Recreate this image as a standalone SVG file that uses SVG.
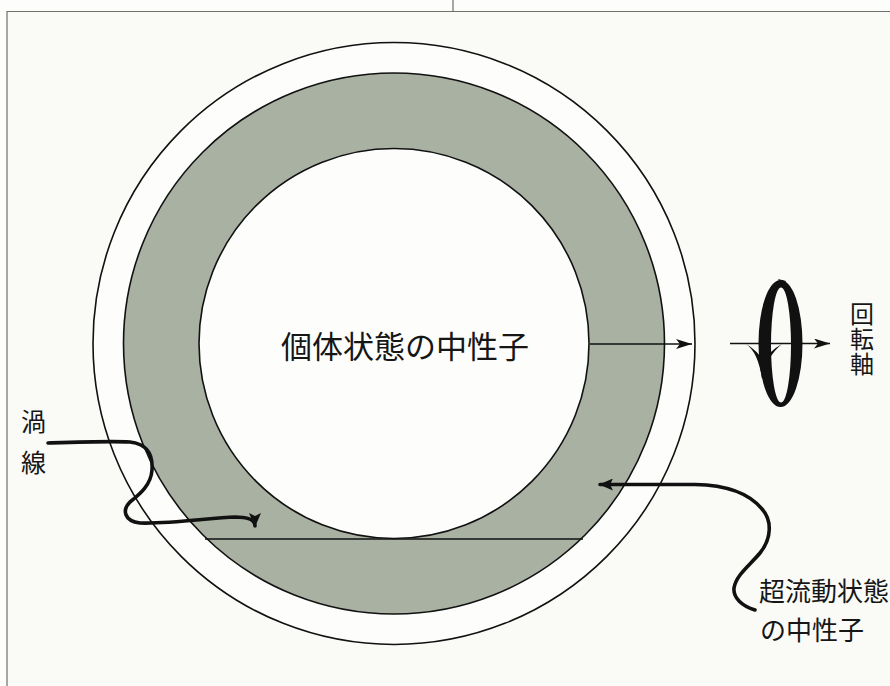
<svg xmlns="http://www.w3.org/2000/svg" width="890" height="686" viewBox="0 0 890 686">
  <defs>
    <style>
      .page { fill: #fafbf7; }
      .frame { stroke: #6e706c; stroke-width: 1.2; fill: none; }
      .ring-line { stroke: #111; stroke-width: 1.6; }
      .thin { stroke: #111; stroke-width: 1.4; fill: none; }
      .leader { stroke: #111; stroke-width: 3.6; fill: none; stroke-linecap: round; stroke-linejoin: round; }
      .label { font-family: "Noto Sans CJK JP", "Noto Sans", sans-serif; fill: #161616; }
    </style>
    <marker id="thinHead" viewBox="0 0 16 10" refX="16" refY="5" markerWidth="16" markerHeight="10" markerUnits="userSpaceOnUse" orient="auto">
      <path d="M0,0 L16,5 L0,10 L4,5 Z" fill="#111"/>
    </marker>
    <marker id="boldHead" viewBox="0 0 14 12" refX="13" refY="6" markerWidth="14" markerHeight="12" markerUnits="userSpaceOnUse" orient="auto">
      <path d="M0,0 L14,6 L0,12 L3,6 Z" fill="#111"/>
    </marker>
  </defs>

  <!-- paper -->
  <rect class="page" x="0" y="0" width="890" height="686"/>
  <rect x="0" y="0" width="890" height="11" fill="#fdfdfb"/>
  <rect x="0" y="0" width="7" height="686" fill="#fdfdfb"/>

  <!-- page frame -->
  <g id="frame">
    <line class="frame" x1="7" y1="11.5" x2="890" y2="11.5"/>
    <line class="frame" x1="7" y1="11" x2="7" y2="686"/>
    <line class="frame" x1="453" y1="0" x2="453" y2="11.5"/>
  </g>

  <!-- neutron star cross-section -->
  <g id="star">
    <circle class="ring-line" cx="394" cy="343.5" r="301" fill="#fdfdfb"/>
    <circle class="ring-line" cx="394" cy="343.5" r="270.5" fill="#a9b1a3"/>
    <circle class="ring-line" cx="394" cy="343.5" r="195" fill="#fdfdfb"/>
    <line class="ring-line" x1="205" y1="539" x2="583" y2="539"/>
  </g>

  <!-- rotation symbol -->
  <g id="rotation">
    <path fill="#111" fill-rule="evenodd" d="M780.5,280 A22,63.5 0 1,1 780.5,407 A22,63.5 0 1,1 780.5,280 Z M781,287.5 A10,57.5 0 1,0 781,402.5 A10,57.5 0 1,0 781,287.5 Z"/>
    <path fill="#111" d="M778,279 L786,281 L783,286 Z"/>
  </g>

  <!-- labels -->
  <g id="label-solid">
    <text class="label" x="281" y="358" font-size="31">個体状態の中性子</text>
  </g>
  <g id="label-axis">
    <text class="label" x="862" y="302" font-size="24" letter-spacing="1" style="writing-mode: vertical-rl">回転軸</text>
  </g>
  <g id="label-vortex">
    <text class="label" x="33.5" y="431" font-size="25" text-anchor="middle">渦</text>
    <text class="label" x="33.5" y="472" font-size="25" text-anchor="middle">線</text>
  </g>
  <g id="label-superfluid">
    <text class="label" x="759" y="601" font-size="26">超流動状態</text>
    <text class="label" x="760" y="640" font-size="26">の中性子</text>
  </g>

  <!-- connectors -->
  <g id="connectors">
    <line class="thin" x1="590" y1="344" x2="692" y2="344" marker-end="url(#thinHead)"/>
    <line class="thin" x1="730" y1="343.5" x2="830" y2="343.5" marker-end="url(#thinHead)"/>
    <!-- downward arrowhead on the front of the ring -->
    <path fill="#111" d="M746,344 Q758,352 762,379 Q767,356 782,344 Q769,351 764,362 Q757,350 746,344 Z"/>
    <!-- vortex line leader -->
    <path class="leader" d="M48,443 C80,442 110,441 130,442 C148,444 153,455 152,470 C151,485 140,494 130,502 C122,510 124,521 140,523 C170,524 210,518 235,517 C248,517 255,520 255,526" marker-end="url(#boldHead)"/>
    <!-- superfluid leader -->
    <path class="leader" d="M755,610 C742,606 733,598 734,588 C736,575 750,565 760,553 C772,538 772,520 762,509 C748,492 725,485 695,484.5 L600,484.5" marker-end="url(#boldHead)"/>
  </g>
</svg>
